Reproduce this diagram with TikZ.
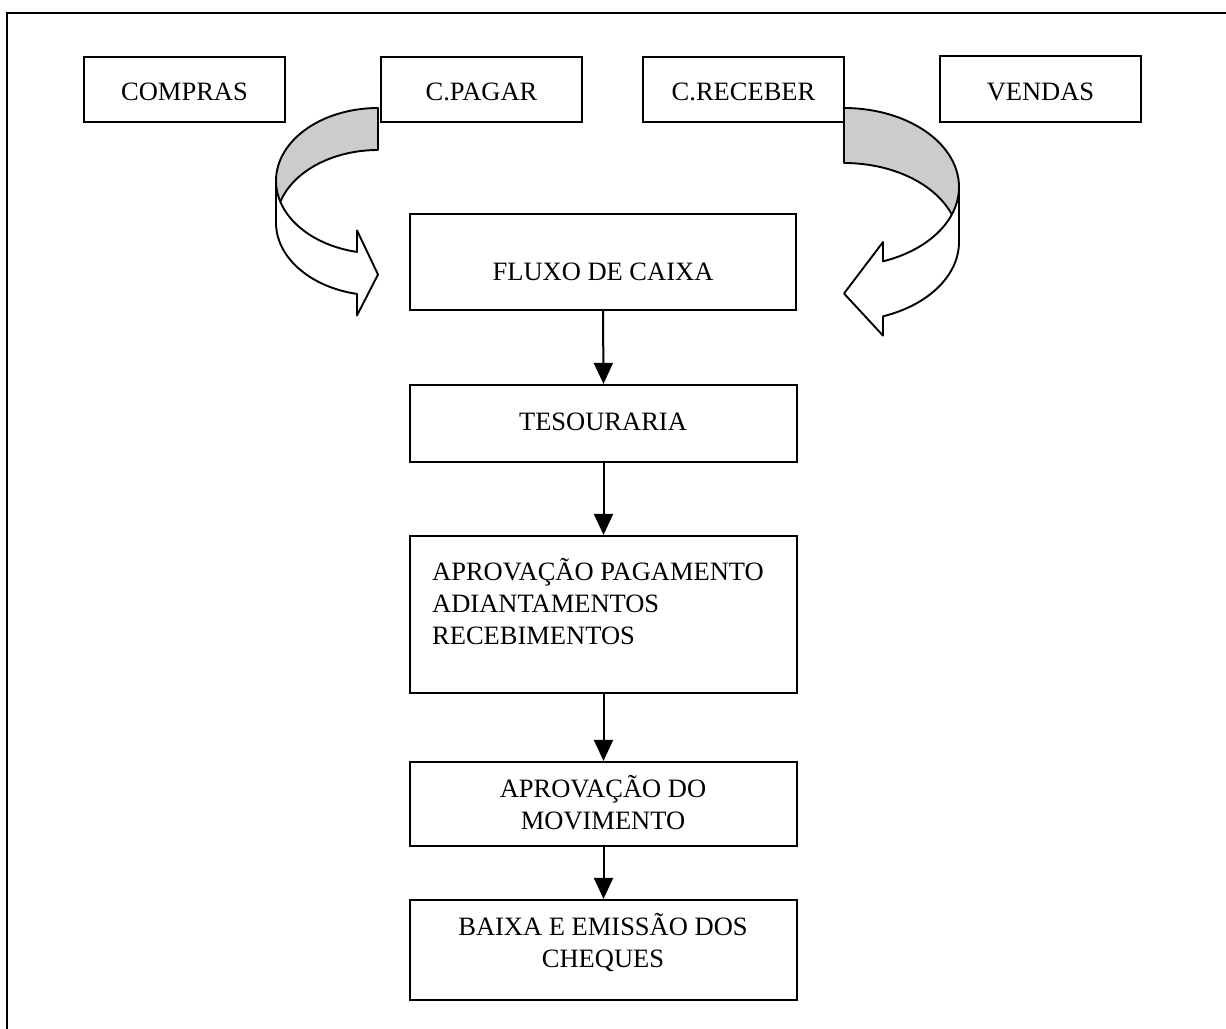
\documentclass[tikz,border=0pt]{standalone}
\usepackage{fontspec}
\setmainfont{Liberation Serif}
\usetikzlibrary{arrows.meta}

% Curved 3D band arrow: #1,#2 = top end of the band, #3 = +1/-1 (direction),
% #4 = half width of the bend, #5 = vertical radius, #6 = band thickness,
% #7 = head length, #8 = head width
\newcommand\bentarrow[8]{%
  \begin{scope}[shift={(#1,#2)}, xscale=#3]
    \pgfmathsetmacro\bdy{sqrt(#4*#4-#7*#7)*#5/#4}
    \pgfmathsetmacro\bte{acos(-#7/#4)}
    \pgfmathsetmacro\bal{asin(#6/(2*#5))}
    \pgfmathsetmacro\bdh{(#8-#6)/2}
    \pgfmathsetmacro\byfive{#5+\bdy}
    \pgfmathsetmacro\byseven{#5+#6+\bdy}
    \pgfmathsetmacro\bysix{2*#5+#6/2}
    \pgfmathsetmacro\bstop{180-\bal}
    \pgfmathsetmacro\bsbot{180+\bal}
    % back of the band (shaded)
    \fill[bandgrey]
      (0,0) -- plot[domain=270:\bstop, samples=60, variable=\t]
        ({#4*cos(\t)},{#5+#5*sin(\t)})
      -- plot[domain=\bsbot:270, samples=60, variable=\t]
        ({#4*cos(\t)},{#5+#6+#5*sin(\t)}) -- cycle;
    % front of the band with the head
    \filldraw[bandline, fill=white]
      plot[domain=180:\bte, samples=60, variable=\t]
        ({#4*cos(\t)},{#5+#5*sin(\t)})
      -- (-#7,\byfive-\bdh) -- (0,\bysix) -- (-#7,\byseven+\bdh)
      -- plot[domain=\bte:180, samples=60, variable=\t]
        ({#4*cos(\t)},{#5+#6+#5*sin(\t)}) -- cycle;
    % outline of the back of the band
    \draw[bandline]
      plot[domain=180:270, samples=60, variable=\t]
        ({#4*cos(\t)},{#5+#5*sin(\t)})
      -- (0,#6)
      -- plot[domain=270:\bsbot, samples=60, variable=\t]
        ({#4*cos(\t)},{#5+#6+#5*sin(\t)});
  \end{scope}}

\definecolor{bandgrey}{RGB}{204,204,204}

\begin{document}
\begin{tikzpicture}[
  x=1pt, y=-1pt,
  every node/.style={font=\fontsize{26.5}{32}\selectfont},
  box/.style={draw, line width=2.2pt, inner sep=0pt, minimum width=#1},
  box/.default=201pt,
  lbl/.style={anchor=base, inner sep=0pt},
  flow/.style={line width=2pt, -{Triangle[width=19pt,length=21pt]}},
  bandline/.style={line width=1.9pt, line join=round},
]
\useasboundingbox (0,0) rectangle (1226,1028);

% outer frame
\draw[line width=2.4pt] (7,1040) -- (7,13) -- (1240,13);

% top row
\node[box, minimum height=65pt] (compras)  at (184.5,89.5) {};
\node[box, minimum height=65pt] (cpagar)   at (481.5,89.5) {};
\node[box, minimum height=65pt] (creceber) at (743.5,89.5) {};
\node[box, minimum height=66pt] (vendas)   at (1040.5,89) {};
\node[lbl] (tcompras)  at (184.5,100.5)  {COMPRAS};
\node[lbl] (tcpagar)   at (481.5,100.5)  {C.PAGAR};
\node[lbl] (tcreceber) at (743.5,100.5)  {C.RECEBER};
\node[lbl] (tvendas)   at (1040.5,100.5) {VENDAS};

% main column
\node[box=386pt, minimum height=96pt]  (fluxo)  at (603,262)   {};
\node[box=387pt, minimum height=77pt]  (tes)    at (603.5,423.5) {};
\node[box=387pt, minimum height=157pt] (aprpag) at (603.5,614.5) {};
\node[box=387pt, minimum height=84pt]  (aprmov) at (603.5,804) {};
\node[box=387pt, minimum height=100pt] (baixa)  at (603.5,950) {};

% multi-line labels sit on the baseline of their last line
\node[lbl] (tfluxo) at (603,280) {FLUXO DE CAIXA};
\node[lbl] (ttes)   at (603,430) {TESOURARIA};
\node[lbl, anchor=base west, align=left] (taprpag) at (432,644)
  {APROVAÇÃO PAGAMENTO\\ADIANTAMENTOS\\RECEBIMENTOS};
\node[lbl, align=center] (taprmov) at (603,829) {APROVAÇÃO DO\\MOVIMENTO};
\node[lbl, align=center] (tbaixa)  at (603,967) {BAIXA E EMISSÃO DOS\\CHEQUES};

% connectors
\draw[flow] (fluxo.south)  -- (tes.north);
\draw[flow] (tes.south)    -- (aprpag.north);
\draw[flow] (aprpag.south) -- (aprmov.north);
\draw[flow] (aprmov.south) -- (baixa.north);

% curved band arrows into the cash-flow box
\bentarrow{378}{108}{1}{102}{72.75}{42}{21}{85}
\bentarrow{844}{108}{-1}{115}{79}{55}{39}{93.6}
\end{tikzpicture}
\end{document}
